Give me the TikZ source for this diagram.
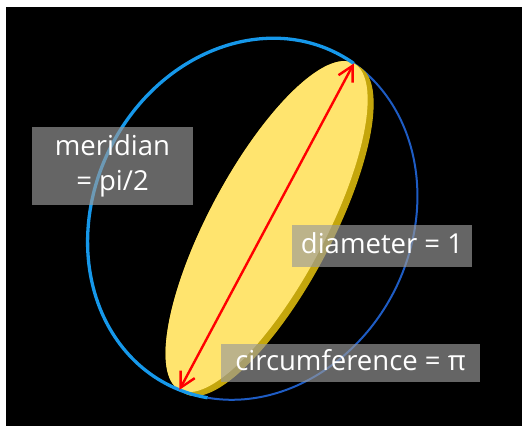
\documentclass[tikz,border=0pt]{standalone}
\usepackage{fontspec}
\setmainfont{Open Sans}
\usetikzlibrary{arrows.meta, positioning, calc}
\definecolor{frontblue}{RGB}{22,152,234}
\definecolor{backblue}{RGB}{30,92,196}
\definecolor{diskface}{RGB}{255,228,110}
\definecolor{diskedge}{RGB}{196,166,12}
\definecolor{labelgray}{RGB}{154,154,154}
\tikzset{labelbox/.style={fill=labelgray, fill opacity=0.66, text opacity=1, text=white,
            font=\fontsize{27.5}{35}\selectfont, inner sep=0pt},
         oneline/.style={labelbox, text height=20pt, text depth=5pt},
         front/.style={draw=frontblue, line width=3.3pt},
         back/.style={draw=backblue, line width=2pt},
         diam/.style={draw=red, line width=2.4pt,
            {Straight Barb[length=15pt, width=16pt]}-{Straight Barb[length=15pt, width=16pt]}}}

\begin{document}
\begin{tikzpicture}[x=1pt, y=1pt]
    \useasboundingbox (0,0) rectangle (522,426);
    \fill[black] (6,0) rectangle (522,419);

    % meridian (seen in perspective)
    \begin{scope}[shift={(252.5,207)}, rotate=63]
        \coordinate (tiptop) at (-7.1:186pt and 159pt);
        \coordinate (tipbot) at (184.5:186pt and 159pt);
        \draw[back] (195:186pt and 159pt) arc[start angle=195, end angle=352.9, x radius=186pt, y radius=159pt];
    \end{scope}

    % the disk: edge first, then the face
    \foreach \s in {0,0.5,...,6}
        \fill[diskedge] (266.6+\s,199.4-2*\s/3) ellipse[x radius=185pt, y radius=58pt, rotate=61.9];
    \fill[diskface] (266.6,199.4) ellipse[x radius=185pt, y radius=58pt, rotate=61.9];

    \begin{scope}[shift={(252.5,207)}, rotate=63]
        \draw[front] (-7.1:186pt and 159pt) arc[start angle=-7.1, end angle=195, x radius=186pt, y radius=159pt];
    \end{scope}

    \draw[diam] (tipbot) -- (tiptop);

    \node[labelbox, minimum width=161pt, minimum height=78pt, align=center] (meridian) at (112.5,260) {meridian\\= pi/2};
    \node[oneline, minimum width=180pt, minimum height=42pt] (diameter) at (382,180) {diameter = 1};
    \node[oneline, minimum width=259pt, minimum height=38pt] (circum) at (350.5,63) {circumference = π};
\end{tikzpicture}
\end{document}
